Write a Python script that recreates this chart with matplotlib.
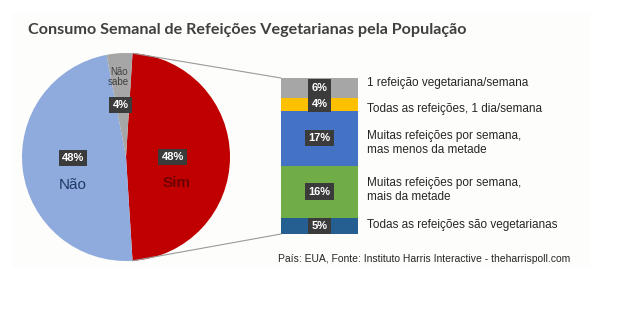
import numpy as np
import matplotlib.pyplot as plt
from matplotlib.patches import ConnectionPatch, Rectangle

# ============================================================================
# Data
# ============================================================================
pie_labels = ["Sim", "Não", "Não\nsabe"]
pie_values = [48, 48, 4]
pie_colors = ["#c00000", "#8faadc", "#a6a6a6"]

# stacked bar, listed bottom -> top
bar_labels = [
    "Todas as refeições são vegetarianas",
    "Muitas refeições por semana,\nmais da metade",
    "Muitas refeições por semana,\nmas menos da metade",
    "Todas as refeições, 1 dia/semana",
    "1 refeição vegetariana/semana",
]
bar_values = [5, 16, 17, 4, 6]
bar_colors = ["#255e91", "#70ad47", "#4472c4", "#ffc000", "#a6a6a6"]

title = "Consumo Semanal de Refeições Vegetarianas pela População"
source = "País: EUA, Fonte: Instituto Harris Interactive - theharrispoll.com"

# ============================================================================
# Figure
# ============================================================================
W, H = 640, 331
fig = plt.figure(figsize=(W / 100, H / 100), dpi=100)
fig.patch.set_facecolor("white")

# faint slide background (behind everything)
bg = fig.add_axes([0, 0, 1, 1], zorder=-10)
bg.axis("off")
bg.set_xlim(0, W)
bg.set_ylim(H, 0)
bg.add_patch(Rectangle((12, 13), 578, 255, facecolor="#fdfdfb",
                       edgecolor="none"))

sans = "Liberation Sans"
box = dict(boxstyle="square,pad=0.3", facecolor="#3b3b3b", edgecolor="none")

# ----------------------------------------------------------------------------
# Pie ("Sim" wedge centred on the right-hand side)
# ----------------------------------------------------------------------------
cx, cy, r = 126, 157, 104
start = 90 - (180 - 360 * pie_values[0] / sum(pie_values)) / 2
ax_pie = fig.add_axes([(cx - r) / W, 1 - (cy + r) / H, 2 * r / W, 2 * r / H])
wedges, _ = ax_pie.pie(pie_values, colors=pie_colors, startangle=start,
                       counterclock=False, radius=1,
                       wedgeprops=dict(linewidth=0))
ax_pie.set_xlim(-1, 1)
ax_pie.set_ylim(-1, 1)
ax_pie.set_aspect("equal")
ax_pie.axis("off")

# value boxes and names
ax_pie.text(0.45, 0.0, f"{pie_values[0]}%", ha="center", va="center",
            fontsize=8, fontweight="bold", color="white", family=sans, bbox=box)
ax_pie.text(0.49, -0.25, pie_labels[0], ha="center", va="center",
            fontsize=11, fontweight="bold", color="#6e0000", family=sans)
ax_pie.text(-0.51, -0.01, f"{pie_values[1]}%", ha="center", va="center",
            fontsize=8, fontweight="bold", color="white", family=sans, bbox=box)
ax_pie.text(-0.51, -0.27, pie_labels[1], ha="center", va="center",
            fontsize=11, color="#1f3864", family=sans)
ax_pie.text(-0.07, 0.77, pie_labels[2], ha="center", va="center",
            fontsize=7, color="#404040", family=sans, linespacing=1.05)
ax_pie.text(-0.05, 0.5, f"{pie_values[2]}%", ha="center", va="center",
            fontsize=8, fontweight="bold", color="white", family=sans, bbox=box)

# ----------------------------------------------------------------------------
# Stacked bar
# ----------------------------------------------------------------------------
ax_bar = fig.add_axes([281 / W, 1 - 234 / H, 77 / W, 156 / H])
bottom = 0
centers = []
for val, col in zip(bar_values, bar_colors):
    ax_bar.bar(0.5, val, width=1, bottom=bottom, color=col, linewidth=0)
    centers.append(bottom + val / 2)
    bottom += val
ax_bar.set_xlim(0, 1)
ax_bar.set_ylim(0, sum(bar_values))
ax_bar.axis("off")

label_shift = [0.3, 0.5, -1.5, -1.6, 1.5]
for c, val, lab, dy in zip(centers, bar_values, bar_labels, label_shift):
    ax_bar.text(0.5, c, f"{val}%", ha="center", va="center", fontsize=8,
                fontweight="bold", color="white", family=sans, bbox=box)
    ax_bar.text(1.117, c + dy, lab, ha="left", va="center", fontsize=8.5,
                color="#262626", family=sans, linespacing=1.15,
                transform=ax_bar.get_yaxis_transform())

# ----------------------------------------------------------------------------
# Connector lines from the "Sim" wedge to the bar
# ----------------------------------------------------------------------------
sim = wedges[0]
for ang, ybar in [(sim.theta2, sum(bar_values)), (sim.theta1, 0)]:
    p = (np.cos(np.radians(ang)), np.sin(np.radians(ang)))
    con = ConnectionPatch(xyA=p, coordsA=ax_pie.transData,
                          xyB=(0, ybar), coordsB=ax_bar.transData,
                          color="#9a9a9a", linewidth=0.8)
    fig.add_artist(con)

# ----------------------------------------------------------------------------
# Title and source
# ----------------------------------------------------------------------------
fig.text(28 / W, 1 - 30 / H, title, ha="left", va="center", fontsize=11.6,
         fontweight="bold", color="#404040", family="Lato")
fig.text(278 / W, 1 - 259 / H, source, ha="left", va="center", fontsize=7.5,
         color="#262626", family=sans)

fig.savefig("out.png", dpi=100)
